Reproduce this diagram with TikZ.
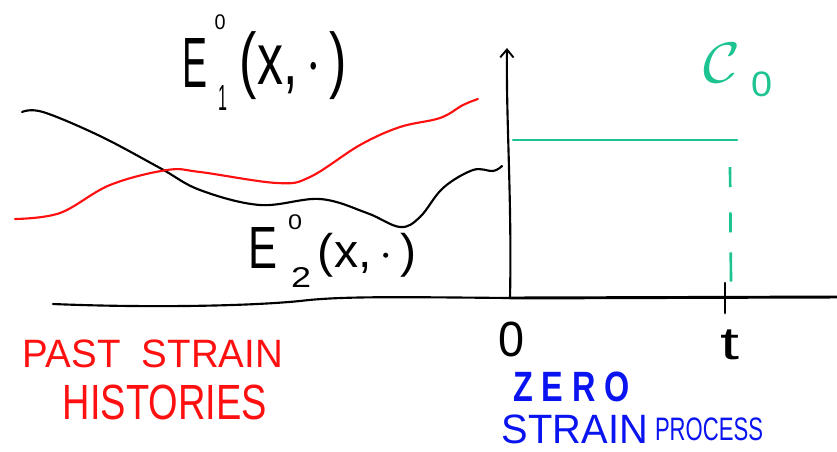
\documentclass[tikz,border=0pt]{standalone}
\usepackage{graphicx}
\usepackage{fontspec}
\setmainfont{Liberation Sans}
\usetikzlibrary{arrows.meta}
\newlength{\pxu}\setlength{\pxu}{0.75pt}
\newcommand{\bx}[3]{\resizebox*{#1\pxu}{#2\pxu}{#3}}
\definecolor{sketchred}{HTML}{FF1010}
\definecolor{sketchgreen}{HTML}{1DC492}
\definecolor{sketchblue}{HTML}{0A14F0}
\tikzset{
  lbl/.style={inner sep=0pt, outer sep=0pt, anchor=center},
  ink/.style={line width=1.6pt, line cap=round, line join=round},
}
\begin{document}
\begin{tikzpicture}[x=0.75pt,y=-0.75pt]
\useasboundingbox (0,0) rectangle (837,451);
% axes
\coordinate (xl) at (53,304);
\coordinate (O) at (510,298);
\coordinate (xr) at (837,297);
\coordinate (ytop) at (507,48);
\draw[ink] (xl) .. controls (150,308) and (250,306) .. (300,301) .. controls (340,296) and (400,297) .. (O);
\draw[ink, line width=2.2pt] (O) -- (xr);
\draw[ink, -{Straight Barb[length=6pt,width=10pt,line width=1.4pt]}] (O) .. controls (512,200) and (506,120) .. (ytop);
\coordinate (tk1) at (725,283);
\coordinate (tk2) at (725,313);
\draw[ink, line width=2pt] (tk1) -- (tk2);
% black curve E2
\draw[ink, black] plot[smooth, tension=0.6] coordinates {(22,112) (43,112) (100,136) (160,168) (200,190) (260,205) (320,199) (367,213) (400,227) (420,217) (443,188) (473,170) (493,171) (502,166)};
% red curve E1
\draw[ink, sketchred] plot[smooth, tension=0.6] coordinates {(15,219) (60,213) (110,185) (167,170) (200,172) (277,183) (310,177) (360,145) (400,127) (440,118) (463,105) (478,99)};
% green process
\coordinate (g1) at (513,140);
\coordinate (g2) at (737,140);
\draw[ink, sketchgreen, line width=2pt] (g1) -- (g2);
\coordinate (d1a) at (730,167);
\coordinate (d1b) at (731,283);
\draw[sketchgreen, line width=2pt, line cap=butt, dash pattern=on 15pt off 19pt on 15pt off 15pt on 22pt off 10pt] (d1a) -- (d1b);
% labels E1
\node[lbl] (e1E) at (194.5,62.5) {\bx{25}{49}{E}};
\node[lbl] (e1sup) at (220,22.5) {\bx{11}{15}{0}};
\node[lbl] (e1sub) at (222.5,97.5) {\bx{9}{25}{1}};
\node[lbl] (e1arg) at (293.5,66) {\bx{107}{68}{(x,\,$\cdot$\,)}};
% labels E2
\node[lbl] (e2E) at (262.5,247.5) {\bx{29}{41}{E}};
\node[lbl] (e2sup) at (295,222.5) {\bx{14}{15}{0}};
\node[lbl] (e2sub) at (301,277) {\bx{20}{20}{2}};
\node[lbl] (e2arg) at (367.5,255) {\bx{99}{44}{(x,\,$\cdot$\,)}};
% C0
\node[lbl, text=sketchgreen] (cC) at (721.5,62.5) {\bx{37}{39}{$\mathcal{C}$}};
\node[lbl, text=sketchgreen] (c0) at (761.5,84.5) {\bx{21}{25}{0}};
% axis labels
\node[lbl] (zero) at (511.5,339.5) {\bx{26}{35}{0}};
\node[lbl] (tlab) at (730,345) {\bx{19}{30}{t}};
% red text
\node[lbl, text=sketchred] (past) at (153,354) {\bx{260}{28}{PAST~~STRAIN}};
\node[lbl, text=sketchred] (hist) at (165,402.5) {\bx{204}{35}{HISTORIES}};
% blue text
\node[lbl, text=sketchblue] (zerot) at (571.5,387) {\bx{117}{30}{\bfseries Z E R O}};
\node[lbl, text=sketchblue] (strain) at (575,429) {\bx{146}{29}{STRAIN}};
\node[lbl, text=sketchblue] (proc) at (709,429.5) {\bx{108}{23}{PROCESS}};
\end{tikzpicture}
\end{document}
